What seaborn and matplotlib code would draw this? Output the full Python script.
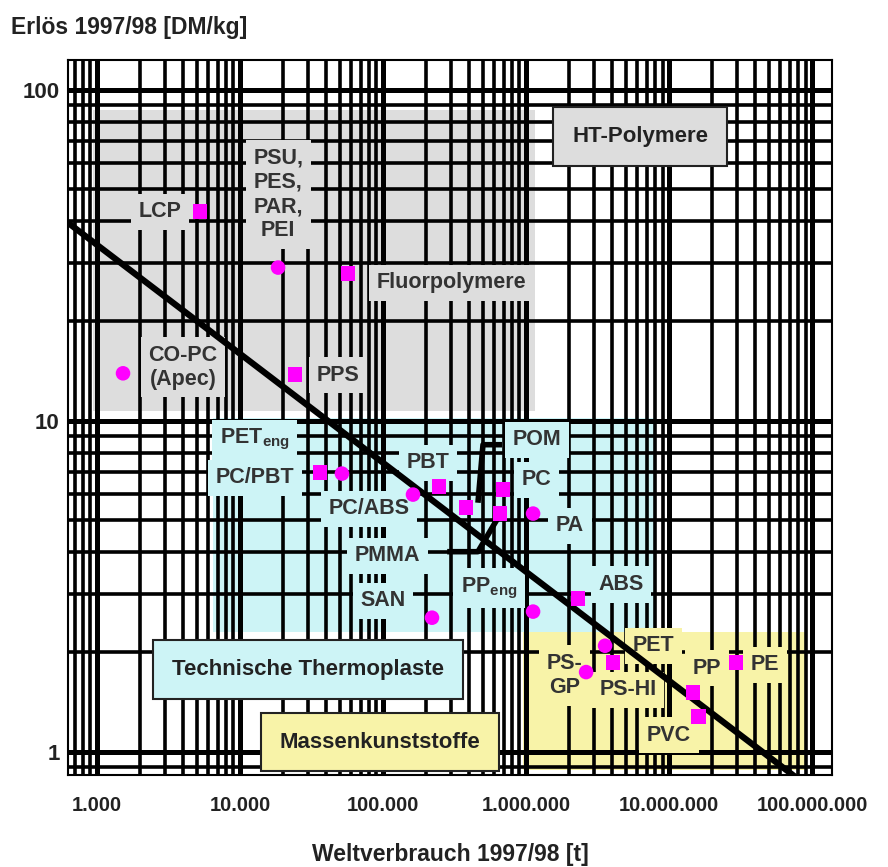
import matplotlib
matplotlib.use("Agg")
import matplotlib.pyplot as plt
import matplotlib.ticker as mticker
from matplotlib.patches import Rectangle
import pandas as pd
import seaborn as sns

# materials: world consumption [t] vs. revenue [DM/kg]
names = ["LCP", "PSU", "Fluor", "CO-PC", "PPS", "PETeng", "PCPBT", "PCABS", "PBT",
         "PMMA", "POM", "PC", "PA", "SAN", "PPeng", "ABS", "PET", "PS-HI", "PS-GP",
         "PP", "PVC", "PE"]
consumption = [5250, 18450, 56900, 1520, 24300, 36200, 51600, 162000, 246000,
               380000, 690000, 658000, 1120000, 220000, 1120000, 2310000, 3570000,
               4060000, 2630000, 14700000, 16000000, 29400000]
revenue = [42.8, 29.0, 27.8, 13.9, 13.8, 6.97, 6.92, 5.98, 6.32,
           5.46, 6.19, 5.24, 5.24, 2.54, 2.65, 2.90, 2.09,
           1.86, 1.74, 1.51, 1.28, 1.86]
shapes = ["s", "o", "s", "o", "s", "s", "o", "o", "s",
          "s", "s", "s", "o", "o", "o", "s", "o",
          "s", "o", "s", "s", "s"]

# trend line end points
trend_x = [627, 8.2e7]
trend_y = [39.6, 0.82]

# bracket lines (POM, PMMA)
pom_x = [679000, 500000, 461000]
pom_y = [8.46, 8.46, 5.65]
pmma_x = [281000, 461000, 637000]
pmma_y = [4.02, 4.02, 5.09]

# group regions: (x0, x1, y0, y1, colour)
regions = [
    (940, 1.15e6, 10.7, 87, "#dddddd"),
    (6500, 7.9e6, 2.3, 10.2, "#cdf4f6"),
    (9.5e5, 8.9e7, 0.88, 2.3, "#f8f3a8"),
]

x_ticks = [1e3, 1e4, 1e5, 1e6, 1e7, 1e8]
x_ticklabels = ["1.000", "10.000", "100.000", "1.000.000", "10.000.000", "100.000.000"]
y_ticks = [1, 10, 100]
y_ticklabels = ["1", "10", "100"]

# label text, x, y, background
labels = [
    ("PSU,\nPES,\nPAR,\nPEI", 18500, 48.2, "#dddddd"),
    ("LCP", 2760, 42.8, "#dddddd"),
    ("Fluorpolymere", 299000, 26.1, "#dddddd"),
    ("CO-PC\n(Apec)", 3990, 14.5, "#dddddd"),
    ("PPS", 48400, 13.7, "#dddddd"),
    (r"PET$_{\mathbf{eng}}$", 12700, 8.76, "#cdf4f6"),
    ("PC/PBT", 12700, 6.73, "#cdf4f6"),
    ("PBT", 205000, 7.47, "#cdf4f6"),
    ("POM", 1.19e6, 8.76, "#cdf4f6"),
    ("PC", 1.19e6, 6.63, "#cdf4f6"),
    ("PC/ABS", 80000, 5.42, "#cdf4f6"),
    ("PA", 2.03e6, 4.82, "#cdf4f6"),
    ("PMMA", 1.07e5, 3.91, "#cdf4f6"),
    ("SAN", 1.0e5, 2.86, "#cdf4f6"),
    (r"PP$_{\mathbf{eng}}$", 550000, 3.12, "#cdf4f6"),
    ("ABS", 4.61e6, 3.2, "#cdf4f6"),
    ("PET", 7.8e6, 2.09, "#f8f3a8"),
    ("PS-\nGP", 1.85e6, 1.70, "#f8f3a8"),
    ("PS-HI", 5.16e6, 1.54, "#f8f3a8"),
    ("PP", 1.85e7, 1.79, "#f8f3a8"),
    ("PE", 4.7e7, 1.83, "#f8f3a8"),
    ("PVC", 1.0e7, 1.12, "#f8f3a8"),
]

# boxed group titles
group_labels = [
    ("HT-Polymere", 6.27e6, 72, "#dddddd"),
    ("Technische Thermoplaste", 29900, 1.77, "#cdf4f6"),
    ("Massenkunststoffe", 95300, 1.07, "#f8f3a8"),
]

df = pd.DataFrame({"name": names, "consumption": consumption,
                   "revenue": revenue, "shape": shapes})

sns.set_style("white")
plt.rcParams["font.family"] = ["Liberation Sans", "DejaVu Sans"]
plt.rcParams["font.weight"] = "bold"
plt.rcParams["mathtext.fontset"] = "custom"
plt.rcParams["mathtext.bf"] = "Liberation Sans:bold"
plt.rcParams["mathtext.rm"] = "Liberation Sans:bold"

fig = plt.figure(figsize=(8.88, 8.67), dpi=100)
ax = fig.add_axes([0.0766, 0.106, 0.8604, 0.825])
ax.set_xscale("log")
ax.set_yscale("log")
ax.set_xlim(627, 1.38e8)
ax.set_ylim(0.85, 123)

for x0, x1, y0, y1, col in regions:
    ax.add_patch(Rectangle((x0, y0), x1 - x0, y1 - y0, facecolor=col,
                           edgecolor="none", zorder=0.2))

ax.set_axisbelow(True)
ax.grid(True, which="major", color="black", linewidth=3.6)
ax.grid(True, which="minor", color="black", linewidth=2.6)

txt_color = "#333333"
for text, x, y, bg in labels:
    ax.text(x, y, text, ha="center", va="center", fontsize=15.5, fontweight="bold",
            color=txt_color, linespacing=1.2, zorder=3,
            bbox=dict(boxstyle="square,pad=0.35", facecolor=bg, edgecolor="none"))

for text, x, y, bg in group_labels:
    ax.text(x, y, text, ha="center", va="center", fontsize=16, fontweight="bold",
            color="#222222", zorder=3,
            bbox=dict(boxstyle="square,pad=0.85", facecolor=bg, edgecolor="#222222",
                      linewidth=1.5))

ax.plot(pom_x, pom_y, color="black", linewidth=4, zorder=3.4, solid_capstyle="butt")
ax.plot(pmma_x, pmma_y, color="black", linewidth=4, zorder=3.4, solid_capstyle="butt")

sns.lineplot(x=trend_x, y=trend_y, ax=ax, color="black", linewidth=4.5, zorder=3.5)

sns.scatterplot(data=df, x="consumption", y="revenue", style="shape",
                markers={"s": "s", "o": "o"}, color="#ff00ff", s=110,
                edgecolor="none", legend=False, ax=ax, zorder=4)

ax.xaxis.set_major_locator(mticker.FixedLocator(x_ticks))
ax.xaxis.set_major_formatter(mticker.FixedFormatter(x_ticklabels))
ax.yaxis.set_major_locator(mticker.FixedLocator(y_ticks))
ax.yaxis.set_major_formatter(mticker.FixedFormatter(y_ticklabels))
ax.xaxis.set_minor_formatter(mticker.NullFormatter())
ax.yaxis.set_minor_formatter(mticker.NullFormatter())
ax.tick_params(axis="both", which="both", length=0, labelcolor="#222222")
ax.tick_params(axis="x", pad=15, labelsize=14.5)
ax.tick_params(axis="y", pad=6, labelsize=16)
for lab in ax.get_xticklabels() + ax.get_yticklabels():
    lab.set_fontweight("bold")

for sp in ax.spines.values():
    sp.set_color("black")
    sp.set_linewidth(1.5)
    sp.set_visible(True)

ax.set_xlabel("Weltverbrauch 1997/98 [t]", fontsize=16.5, fontweight="bold",
              color="#222222", labelpad=20)
ax.set_ylabel("")
fig.text(0.012, 0.982, "Erlös 1997/98 [DM/kg]", ha="left", va="top",
         fontsize=16.5, fontweight="bold", color="#222222")

fig.savefig("out.png", dpi=100)
